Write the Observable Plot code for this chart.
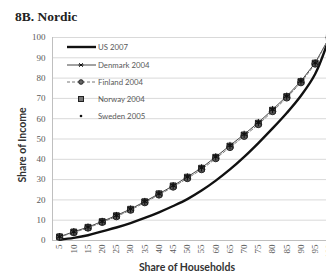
<!DOCTYPE html>
<html><head><meta charset="utf-8">
<script src="https://cdn.jsdelivr.net/npm/d3@7"></script>
<script src="https://cdn.jsdelivr.net/npm/@observablehq/plot@0.6"></script>
<style>
html,body{margin:0;padding:0;overflow:hidden;background:#fff;}
#wrap{position:relative;width:326px;height:274px;overflow:hidden;}
#title{position:absolute;left:15px;top:9px;font:bold 13.5px "Liberation Serif",serif;color:#222;white-space:nowrap;}
#ylab{position:absolute;left:22px;top:145px;transform:translate(-50%,-50%) rotate(-90deg);font:bold 10.5px Lato,sans-serif;color:#333;white-space:nowrap;}
#xlab{position:absolute;left:187px;top:267px;transform:translate(-50%,-50%);font:bold 10.5px Lato,sans-serif;color:#333;white-space:nowrap;}
#legend{position:absolute;left:66px;top:40px;font:7.8px Lato,sans-serif;color:#595959;}
#legend .row{position:absolute;left:0;height:14px;width:120px;}
#legend svg{position:absolute;left:0;top:0;}
#legend span{position:absolute;left:32px;top:2px;white-space:nowrap;}
#chart{position:absolute;left:0;top:0;}
</style></head>
<body>
<div id="wrap">
<div id="chart"></div>
<div id="title">8B. Nordic</div>
<div id="ylab">Share of Income</div>
<div id="xlab">Share of Households</div>
<div id="legend"></div>
</div>
<script>
const shares = [5,10,15,20,25,30,35,40,45,50,55,60,65,70,75,80,85,90,95,100];
const yTicks = [0,10,20,30,40,50,60,70,80,90,100];
const us2007 = [0.4,1.3,2.6,4.5,6.4,8.6,11.1,13.9,17.0,20.4,24.6,29.5,35.0,41.2,48.0,55.2,62.8,71.3,82.0,100];
const denmark2004 = [1.9,4.3,6.6,9.4,12.3,15.5,19.2,23.0,27.0,31.3,35.8,41.2,46.8,52.3,58.1,64.5,71.1,78.5,87.5,100];
const finland2004 = [1.7,4.0,6.2,9.0,11.8,15.0,18.7,22.5,26.4,30.6,35.0,40.4,45.9,51.4,57.2,63.6,70.3,77.8,87.0,100];
const norway2004 = [1.8,4.2,6.5,9.3,12.2,15.4,19.1,23.0,26.9,31.2,35.6,41.0,46.5,52.0,57.8,64.2,70.9,78.3,87.4,100];
const sweden2005 = [1.9,4.3,6.6,9.4,12.3,15.6,19.3,23.1,27.1,31.4,35.8,41.3,46.8,52.3,58.0,64.4,71.0,78.4,87.4,100];

const tbl = (vals) => shares.map((s,i)=>({share:s, value:vals[i]}));
const US = tbl(us2007), DK = tbl(denmark2004), FI = tbl(finland2004), NO = tbl(norway2004), SE = tbl(sweden2005);

const chart = Plot.plot({
  width: 326, height: 274,
  marginLeft: 52, marginRight: 0, marginTop: 37, marginBottom: 34,
  x: {domain: [2.5, 99], ticks: shares, tickRotate: -90, tickSize: 0, tickPadding: 4, label: null, tickFormat: d => String(d)},
  y: {axis: "left", domain: [0, 100], ticks: yTicks, tickSize: 0, tickPadding: 7, label: null},
  style: {fontFamily: '"Liberation Serif", serif', fontSize: "9px", color: "#595959", background: "transparent"},
  marks: [
    Plot.ruleY(yTicks.filter(d=>d>0), {stroke: "#d9d9d9", strokeWidth: 1}),
    Plot.ruleY([0], {stroke: "#bfbfbf", strokeWidth: 1}),
    Plot.ruleX([2.5], {stroke: "#bfbfbf", strokeWidth: 1}),
    Plot.line(US, {x: "share", y: "value", stroke: "#111", strokeWidth: 2.4, curve: "catmull-rom"}),
    Plot.line(DK, {x: "share", y: "value", stroke: "#444", strokeWidth: 1}),
    Plot.line(FI, {x: "share", y: "value", stroke: "#777", strokeWidth: 1, strokeDasharray: "3,2"}),
    Plot.dot(NO, {x: "share", y: "value", symbol: "square", r: 3.3, fill: "#666", stroke: "#222", strokeWidth: 1}),
    Plot.dot(FI, {x: "share", y: "value", symbol: "circle", r: 3.3, fill: "#555", stroke: "#222", strokeWidth: 1}),
    Plot.dot(DK, {x: "share", y: "value", symbol: "asterisk", r: 3.4, stroke: "#111", strokeWidth: 1}),
    Plot.dot(SE, {x: "share", y: "value", symbol: "circle", r: 1.4, fill: "#111", stroke: "none"})
  ]
});
document.getElementById("chart").appendChild(chart);

// legend
const legendItems = [
  {name: "US 2007", y: 0, kind: "thick"},
  {name: "Denmark 2004", y: 17.5, kind: "star"},
  {name: "Finland 2004", y: 34.5, kind: "dash"},
  {name: "Norway 2004", y: 51.5, kind: "square"},
  {name: "Sweden 2005", y: 68.5, kind: "dot"}
];
const ns = "http://www.w3.org/2000/svg";
const leg = document.getElementById("legend");
for (const it of legendItems) {
  const row = document.createElement("div");
  row.className = "row"; row.style.top = it.y + "px";
  const svg = document.createElementNS(ns, "svg");
  svg.setAttribute("width", 30); svg.setAttribute("height", 14);
  const mk = (tag, attrs) => { const e = document.createElementNS(ns, tag); for (const k in attrs) e.setAttribute(k, attrs[k]); svg.appendChild(e); return e; };
  if (it.kind === "thick") mk("line", {x1:1, x2:30, y1:7, y2:7, stroke:"#111", "stroke-width":2.4});
  if (it.kind === "star") {
    mk("line", {x1:1, x2:30, y1:7, y2:7, stroke:"#444", "stroke-width":1});
    mk("path", {d:"M-2.5,0H2.5M-1.8,-1.8L1.8,1.8M-1.8,1.8L1.8,-1.8", transform:"translate(15,7)", stroke:"#111", fill:"none"});
  }
  if (it.kind === "dash") {
    mk("line", {x1:1, x2:30, y1:7, y2:7, stroke:"#777", "stroke-width":1, "stroke-dasharray":"3,2"});
    mk("circle", {cx:15, cy:7, r:2.3, fill:"#666", stroke:"#222"});
  }
  if (it.kind === "square") mk("rect", {x:12.5, y:4.5, width:5, height:5, fill:"#777", stroke:"#222"});
  if (it.kind === "dot") mk("circle", {cx:15, cy:7, r:1.3, fill:"#111"});
  row.appendChild(svg);
  const sp = document.createElement("span"); sp.textContent = it.name; row.appendChild(sp);
  leg.appendChild(row);
}
</script>
</body></html>
